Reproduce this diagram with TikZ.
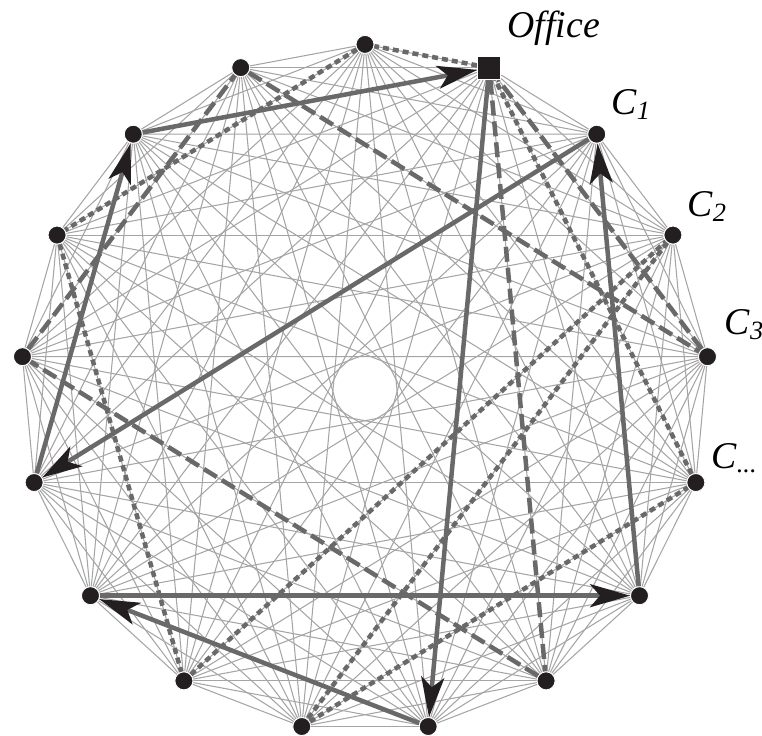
\documentclass[tikz,border=0pt]{standalone}
\usepackage{fontspec}
\setmainfont{Liberation Serif}
\usetikzlibrary{arrows.meta,calc,backgrounds}
\definecolor{dotcol}{RGB}{35,31,32}
\definecolor{webcol}{RGB}{165,165,165}
\definecolor{tourcol}{RGB}{105,105,105}
\newcommand{\csub}[1]{\raisebox{-0.12em}{\fontsize{15pt}{15pt}\selectfont #1}}

\begin{document}
\begin{tikzpicture}[
  x=0.02cm, y=0.02cm,
  %% customer on the ring
  city/.style={
    circle, fill=dotcol, draw=white, line width=0.5pt,
    minimum size=0.36cm, inner sep=0pt
  },
  %% the office (square)
  depot/.style={
    rectangle, fill=dotcol, draw=white, line width=0.5pt,
    minimum size=0.46cm, inner sep=0pt
  },
  lbl/.style={
    font=\fontsize{21.5pt}{25pt}\selectfont\itshape,
    inner sep=0pt, anchor=base west
  },
  %% thin edge of the complete graph
  web/.style={draw=webcol, line width=0.6pt},
  %% the three tours
  arr/.style={draw=tourcol, line width=0.09cm,
    -{Stealth[length=0.8cm, width=0.46cm, inset=0.2cm, color=dotcol]}},
  lng/.style={draw=tourcol, line width=0.09cm, dash pattern=on 0.3cm off 0.12cm},
  shrt/.style={draw=tourcol, line width=0.09cm, dash pattern=on 0.12cm off 0.08cm},
]
\useasboundingbox (-365,-346.6) rectangle (397,388.4);

%%── Ring of 17 points ───────────────────────────────────────────────────────
\node[depot] (v1) at ({90-360/17}:344) {};
\foreach \i in {0,2,3,...,16}
  \node[city] (v\i) at ({90-\i*360/17}:344) {};

%%── Labels ──────────────────────────────────────────────────────────────────
\node[lbl] (loff) at ($(v1)+(18,30.6)$)   {Office};
\node[lbl] (lc1)  at ($(v2)+(14.5,19.3)$) {C\csub{1}};
\node[lbl] (lc2)  at ($(v3)+(14.5,18.1)$) {C\csub{2}};
\node[lbl] (lc3)  at ($(v4)+(17,21.7)$)   {C\csub{3}};
\node[lbl] (lcn)  at ($(v5)+(15.5,14.5)$) {C\csub{...}};

\begin{scope}[on background layer]
%%── Complete graph ──────────────────────────────────────────────────────────
\foreach \i in {0,...,15}{
  \pgfmathtruncatemacro{\k}{\i+1}
  \foreach \j in {\k,...,16}
    \draw[web] (v\i) -- (v\j);
}

%%── Solid tour with arrows ──────────────────────────────────────────────────
\draw[arr] (v1)  -- (v8);
\draw[arr] (v8)  -- (v11);
\draw[arr] (v11) -- (v6);
\draw[arr] (v6)  -- (v2);
\draw[arr] (v2)  -- (v12);
\draw[arr] (v12) -- (v15);
\draw[arr] (v15) -- (v1);

%%── Long-dash tour ──────────────────────────────────────────────────────────
\draw[lng] (v1)  -- (v7);
\draw[lng] (v7)  -- (v13);
\draw[lng] (v13) -- (v16);
\draw[lng] (v16) -- (v4);
\draw[lng] (v4)  -- (v1);

%%── Short-dash tour ─────────────────────────────────────────────────────────
\draw[shrt] (v1)  -- (v0);
\draw[shrt] (v0)  -- (v14);
\draw[shrt] (v14) -- (v10);
\draw[shrt] (v10) -- (v3);
\draw[shrt] (v3)  -- (v9);
\draw[shrt] (v9)  -- (v5);
\draw[shrt] (v5)  -- (v1);
\end{scope}

\end{tikzpicture}
\end{document}
